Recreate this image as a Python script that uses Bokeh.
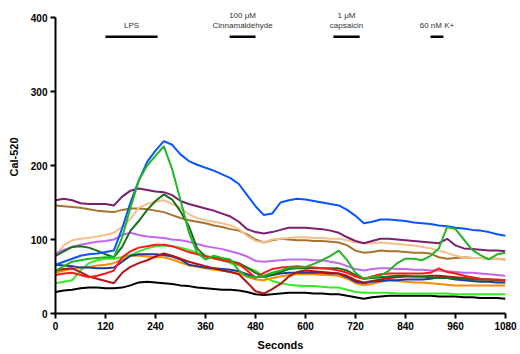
from bokeh.plotting import figure
from bokeh.models import Range1d, FixedTicker, Label
from bokeh.embed import file_html
from bokeh.resources import INLINE

# time grid (seconds)
time_s = list(range(0, 1081, 20))

blue = [66, 70, 74, 78, 80, 81, 83, 85, 115, 150,
        180, 205, 220, 233, 228, 215, 206, 201, 197, 193,
        188, 183, 175, 160, 145, 133, 135, 150, 153, 155,
        154, 152, 150, 148, 146, 140, 132, 122, 124, 127,
        127, 126, 125, 123, 122, 121, 119, 118, 116, 115,
        113, 112, 110, 107, 105]
green = [58, 64, 70, 72, 74, 75, 76, 76, 103, 143,
         180, 200, 213, 226, 195, 153, 110, 82, 73, 78,
         75, 73, 58, 50, 49, 51, 55, 58, 62, 62,
         63, 67, 72, 78, 85, 72, 55, 47, 49, 51,
         58, 68, 74, 74, 72, 78, 88, 117, 114, 100,
         86, 79, 73, 80, 82]
purple = [153, 155, 153, 149, 148, 148, 148, 146, 158, 166,
          169, 167, 165, 164, 160, 152, 148, 145, 142, 139,
          135, 131, 124, 114, 110, 108, 110, 113, 116, 116,
          116, 115, 114, 112, 109, 103, 98, 95, 98, 101,
          101, 100, 99, 98, 97, 96, 95, 101, 92, 88,
          87, 86, 85, 85, 84]
brown = [146, 145, 144, 143, 141, 139, 138, 137, 140, 142,
         142, 141, 139, 137, 133, 129, 126, 124, 122, 119,
         117, 114, 112, 107, 100, 96, 99, 101, 100, 99,
         99, 98, 98, 97, 96, 92, 85, 82, 83, 85,
         84, 84, 83, 82, 82, 81, 76, 74, 75, 76,
         75, 75, 74, 74, 73]
peach = [78, 92, 99, 101, 102, 104, 106, 109, 117, 128,
         143, 148, 151, 153, 148, 143, 134, 129, 126, 124,
         122, 119, 114, 105, 98, 96, 100, 101, 102, 103,
         103, 102, 102, 101, 101, 99, 96, 95, 95, 96,
         95, 94, 93, 92, 90, 88, 85, 82, 78, 76,
         75, 75, 74, 74, 74]
violet = [81, 86, 90, 93, 95, 97, 98, 100, 106, 109,
          106, 104, 103, 102, 100, 99, 97, 94, 91, 89,
          87, 84, 81, 77, 71, 70, 71, 72, 73, 73,
          73, 72, 72, 70, 68, 64, 60, 58, 60, 61,
          61, 60, 60, 59, 59, 58, 58, 57, 56, 55,
          55, 54, 53, 52, 51]
dark_green = [78, 84, 90, 91, 89, 85, 80, 76, 90, 112,
              125, 140, 152, 161, 154, 138, 118, 88, 77, 76,
              74, 71, 68, 62, 55, 50, 52, 56, 60, 61,
              61, 61, 61, 61, 61, 58, 52, 47, 48, 49,
              50, 51, 51, 50, 50, 49, 48, 48, 47, 47,
              46, 46, 46, 45, 45]
navy = [66, 65, 64, 62, 62, 61, 61, 62, 70, 78,
        80, 80, 80, 79, 77, 73, 66, 64, 62, 61,
        60, 59, 57, 53, 49, 50, 52, 54, 55, 55,
        55, 55, 55, 54, 54, 49, 43, 41, 43, 44,
        45, 45, 46, 46, 46, 47, 49, 48, 46, 45,
        44, 43, 43, 42, 42]
orange = [55, 58, 60, 62, 63, 65, 66, 68, 73, 78,
          78, 77, 76, 76, 73, 69, 65, 63, 61, 59,
          58, 56, 54, 50, 46, 45, 48, 50, 52, 53,
          53, 53, 52, 52, 51, 47, 41, 38, 40, 43,
          45, 44, 43, 42, 42, 41, 40, 39, 38, 38,
          38, 38, 38, 38, 38]
red = [52, 54, 55, 52, 49, 51, 54, 58, 76, 84,
       89, 91, 93, 93, 91, 87, 83, 80, 77, 75,
       72, 70, 67, 58, 48, 55, 60, 62, 63, 64,
       63, 62, 61, 60, 58, 55, 50, 47, 50, 53,
       54, 54, 54, 54, 54, 55, 61, 56, 54, 51,
       49, 47, 46, 46, 45]
dark_red = [58, 60, 61, 56, 50, 47, 44, 41, 55, 63,
            68, 72, 77, 81, 78, 74, 70, 67, 64, 61,
            58, 56, 53, 42, 30, 27, 33, 40, 50, 56,
            58, 57, 56, 55, 54, 51, 45, 42, 44, 46,
            48, 49, 50, 50, 50, 51, 51, 50, 49, 48,
            47, 46, 46, 45, 45]
lime = [41, 43, 45, 58, 68, 72, 74, 74, 76, 79,
        84, 88, 91, 92, 91, 89, 86, 82, 78, 74,
        72, 68, 65, 62, 58, 50, 44, 41, 39, 38,
        37, 37, 36, 35, 35, 32, 29, 28, 28, 28,
        28, 27, 27, 27, 27, 27, 27, 27, 26, 26,
        26, 26, 26, 26, 26]
black = [29, 31, 32, 34, 35, 35, 34, 34, 35, 38,
         42, 43, 42, 41, 40, 38, 37, 35, 34, 33,
         32, 32, 31, 29, 26, 25, 26, 27, 28, 28,
         28, 27, 27, 26, 26, 24, 22, 20, 22, 23,
         24, 24, 24, 24, 24, 24, 23, 23, 23, 22,
         22, 21, 21, 21, 20]

series = [
    (brown, "#a8732f"),
    (peach, "#f5c08a"),
    (purple, "#7b1f6e"),
    (violet, "#c267f0"),
    (black, "#000000"),
    (lime, "#38ea22"),
    (orange, "#ff8c00"),
    (navy, "#1a3c9c"),
    (dark_red, "#b01515"),
    (dark_green, "#1b6e1b"),
    (red, "#ff1a1a"),
    (blue, "#0a55ff"),
    (green, "#22b622"),
]

# treatment periods
treat_line1 = ["", "100 \u03bcM", "1 \u03bcM", ""]
treat_line2 = ["LPS", "Cinnamaldehyde", "capsaicin", "60 nM K+"]
treat_start = [120, 418, 667, 900]
treat_end = [245, 480, 730, 931]
bar_level = 374
line2_level = 389
line1_level = 403

x_ticks = [0, 120, 240, 360, 480, 600, 720, 840, 960, 1080]
y_ticks = [0, 100, 200, 300, 400]

# frame extends above the 400 tick so the two-line labels fit
p = figure(width=520, height=354, x_range=Range1d(0, 1080), y_range=Range1d(0, 313 / 0.74),
           output_backend="svg", toolbar_location=None,
           min_border_left=55, min_border_right=15, min_border_top=0, min_border_bottom=41)
p.frame_width = 450
p.frame_height = 313

for vals, col in series:
    p.line(time_s, vals, line_color=col, line_width=2)

p.segment(x0=treat_start, y0=[bar_level] * len(treat_start), x1=treat_end,
          y1=[bar_level] * len(treat_end), line_color="black", line_width=2.5)

for l1, l2, s, e in zip(treat_line1, treat_line2, treat_start, treat_end):
    for txt, lev in ((l1, line1_level), (l2, line2_level)):
        if txt:
            p.add_layout(Label(x=(s + e) / 2, y=lev, text=txt, text_align="center",
                               text_baseline="middle", text_font="Liberation Sans",
                               text_font_size="8px", text_color="#333333"))

p.xgrid.visible = False
p.ygrid.visible = False
p.outline_line_color = None
p.background_fill_color = "white"
p.border_fill_color = "white"

for ax, ticks in ((p.xaxis[0], x_ticks), (p.yaxis[0], y_ticks)):
    ax.ticker = FixedTicker(ticks=ticks)
    ax.axis_line_width = 2
    ax.axis_line_color = "black"
    ax.major_tick_line_width = 2
    ax.major_tick_out = 5
    ax.major_tick_in = 0
    ax.minor_tick_line_color = None
    ax.major_label_text_font = "Liberation Sans"
    ax.major_label_text_font_style = "bold"
    ax.major_label_text_font_size = "10px"
    ax.major_label_text_color = "black"
    ax.axis_label_text_font = "Liberation Sans"
    ax.axis_label_text_font_style = "bold"
    ax.axis_label_text_font_size = "11px"
    ax.axis_label_text_color = "black"

p.yaxis.bounds = (0, 400)
p.xaxis.axis_label = "Seconds"
p.yaxis.axis_label = "Cal-520"
p.xaxis.major_label_standoff = 3
p.yaxis.major_label_standoff = 3
p.xaxis.axis_label_standoff = 6
p.yaxis.axis_label_standoff = 8

open("out.html", "w").write(file_html(p, INLINE))
